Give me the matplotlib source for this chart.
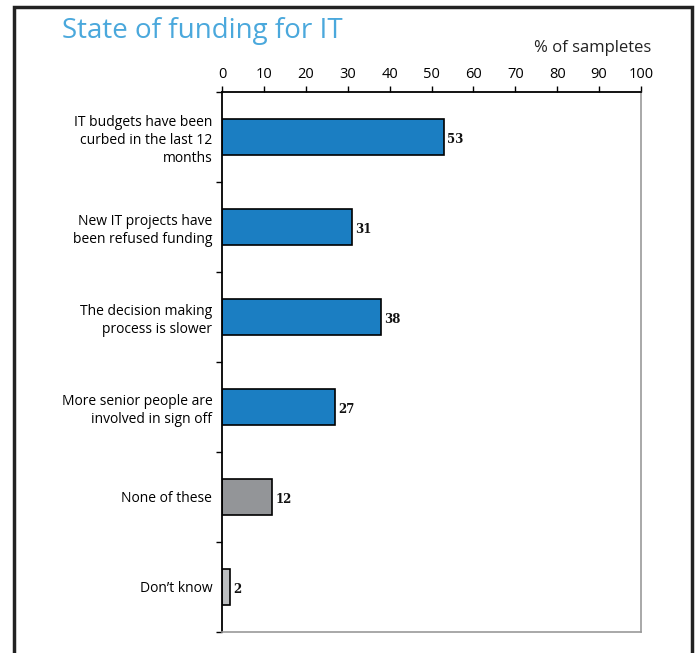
import matplotlib.pyplot as plt
from matplotlib.patches import Rectangle

categories = ['IT budgets have been\ncurbed in the last 12\nmonths',
              'New IT projects have\nbeen refused funding',
              'The decision making\nprocess is slower',
              'More senior people are\ninvolved in sign off',
              'None of these',
              "Don\u2019t know"]
values = [53, 31, 38, 27, 12, 2]
colors = ['#1b7ec2', '#1b7ec2', '#1b7ec2', '#1b7ec2', '#939598', '#bcbec0']
xticks = list(range(0, 101, 10))

plt.rcParams['font.family'] = ['Open Sans', 'DejaVu Sans']

fig = plt.figure(figsize=(6.99, 6.53), dpi=100)
ax = fig.add_axes([222 / 699, 1 - 632 / 653, 419 / 699, 540 / 653])

ypos = list(range(len(categories)))
ax.barh(ypos, values, height=0.4, color=colors, edgecolor='black', linewidth=1.2)
for y, v in zip(ypos, values):
    ax.text(v + 0.8, y + 0.03, str(v), va='center', ha='left', fontsize=8.5,
            fontweight='bold', family='DejaVu Serif', color='#111111')

ax.set_xlim(0, 100)
ax.set_ylim(len(categories) - 0.5, -0.5)
ax.set_xticks(xticks)
ax.xaxis.tick_top()
ax.tick_params(axis='x', direction='out', length=4, width=1, labelsize=10.5, pad=3)

# category labels in the middle, ticks at the band edges
ax.set_yticks(ypos)
ax.set_yticklabels(categories, fontsize=10, linespacing=1.3)
ax.tick_params(axis='y', which='major', length=0, pad=7)
ax.set_yticks([i - 0.5 for i in range(len(categories) + 1)], minor=True)
ax.tick_params(axis='y', which='minor', direction='out', length=4, width=1)

ax.spines['left'].set_linewidth(1.3)
ax.spines['top'].set_linewidth(1.3)
ax.spines['right'].set_color('#999999')
ax.spines['bottom'].set_color('#999999')
ax.spines['right'].set_linewidth(1.2)
ax.spines['bottom'].set_linewidth(1.2)

fig.text(62 / 699, 1 - 31 / 653, 'State of funding for IT', fontsize=20,
         color='#4aa8dc', va='center', ha='left')
fig.text(651 / 699, 1 - 48 / 653, '% of sampletes', fontsize=12,
         color='#222222', va='center', ha='right')

frame = Rectangle((14 / 699, -0.05), (692 - 14) / 699, 1.05 - 7 / 653,
                  transform=fig.transFigure, fill=False, edgecolor='#222222',
                  linewidth=2.5, clip_on=False)
fig.patches.append(frame)

fig.savefig('out.png', dpi=100)
